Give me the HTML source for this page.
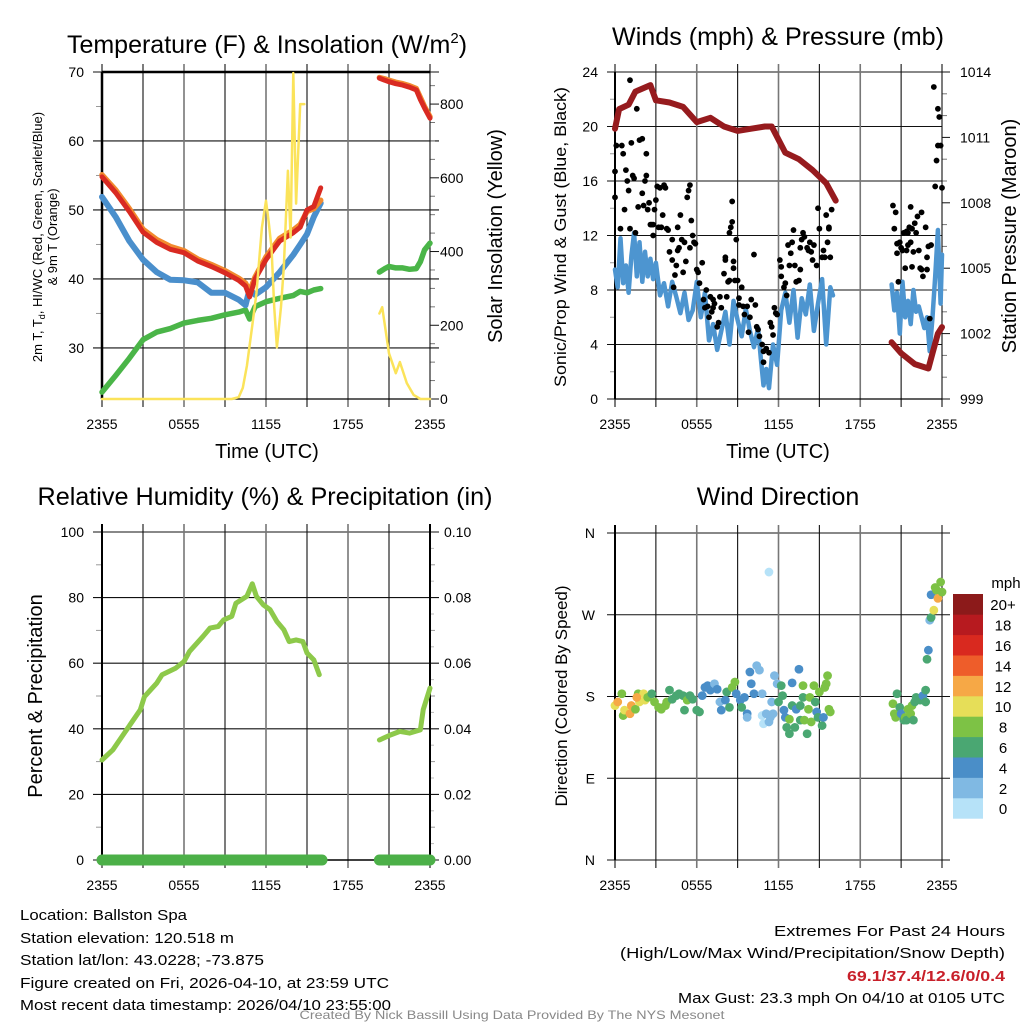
<!DOCTYPE html>
<html><head><meta charset="utf-8"><style>
html,body{margin:0;padding:0;background:#fff;}
svg{display:block;font-family:"Liberation Sans",Arial,sans-serif;}
</style></head><body>
<svg id="chart" width="1024" height="1024" viewBox="0 0 1024 1024" xmlns="http://www.w3.org/2000/svg">
<rect width="1024" height="1024" fill="#fff"/>
<g id="layer"></g>
<g font-size="15" fill="#000">
<text x="20" y="920" textLength="167" lengthAdjust="spacingAndGlyphs">Location: Ballston Spa</text>
<text x="20" y="943" textLength="214" lengthAdjust="spacingAndGlyphs">Station elevation: 120.518 m</text>
<text x="20" y="965" textLength="244" lengthAdjust="spacingAndGlyphs">Station lat/lon: 43.0228; -73.875</text>
<text x="20" y="988" textLength="369" lengthAdjust="spacingAndGlyphs">Figure created on Fri, 2026-04-10, at 23:59 UTC</text>
<text x="20" y="1010" textLength="371" lengthAdjust="spacingAndGlyphs">Most recent data timestamp: 2026/04/10 23:55:00</text>
<text x="1005" y="936" text-anchor="end" textLength="231" lengthAdjust="spacingAndGlyphs">Extremes For Past 24 Hours</text>
<text x="1005" y="958" text-anchor="end" textLength="385" lengthAdjust="spacingAndGlyphs">(High/Low/Max Wind/Precipitation/Snow Depth)</text>
<text x="1005" y="981" text-anchor="end" fill="#c8202a" font-weight="bold" textLength="158" lengthAdjust="spacingAndGlyphs">69.1/37.4/12.6/0/0.4</text>
<text x="1005" y="1003" text-anchor="end" textLength="327" lengthAdjust="spacingAndGlyphs">Max Gust: 23.3 mph On 04/10 at 0105 UTC</text>
<text x="512" y="1019" text-anchor="middle" font-size="12" fill="#888" textLength="425" lengthAdjust="spacingAndGlyphs">Created By Nick Bassill Using Data Provided By The NYS Mesonet</text>
</g>
</svg>
<script>
// ---------- data ----------
const timeLabels = ["2355","0555","1155","1755","2355"];
const tempT = [0,1,2,3,4,5,6,7,8,9,10,10.5,10.8,11.2,12,13,14,14.5,15,15.5,16];
const tempRed = [54.8,52.5,49.8,46.8,45.3,44.3,43.8,42.6,41.8,40.9,39.8,39.0,37.4,40.0,42.8,45.5,46.7,47.5,50.0,50.5,53.2];
const tempOrange = [55.1,52.9,50.2,47.2,45.7,44.7,44.1,42.9,42.1,41.2,40.1,39.4,38.2,40.3,43.2,45.9,47.1,47.9,49.8,50.2,51.4];
const tempBlue = [51.9,49.0,45.5,42.8,41.0,39.9,39.8,39.5,38.0,38.0,37.0,36.2,38.5,37.7,38.8,41.0,43.5,45.0,46.5,49.0,51.0];
const tempGreen = [23.6,26.0,28.5,31.2,32.3,32.8,33.6,34.0,34.3,34.8,35.2,35.5,34.2,36.0,36.7,37.2,37.6,38.2,38.0,38.4,38.6];
const tempT2 = [20.3,20.7,21,21.5,22,22.5,23,23.3,23.6,24];
const tempRed2 = [69.1,68.8,68.6,68.3,68.1,67.8,67.4,66.0,64.8,63.3];
const tempOrange2 = [69.2,69.0,68.8,68.5,68.3,68.0,67.6,66.3,65.0,63.5];
const tempGreen2 = [41.0,41.5,41.8,41.6,41.6,41.4,41.5,42.5,44.2,45.2];
const solarT = [0,9.5,10,10.3,10.6,11,11.3,11.7,12,12.2,12.4,12.6,12.8,13.1,13.3,13.6,13.8,14,14.2,14.5,14.8];
const solarV = [0,0,5,30,90,200,286,465,538,480,411,250,140,250,357,619,438,884,530,800,800];
const solarT2 = [20.3,20.5,21,21.5,21.8,22.3,22.8,23.3,24];
const solarV2 = [232,249,124,70,100,43,11,0,0];
const tempTicks = [30,40,50,60,70];
const solarTicks = [0,200,400,600,800];

const windT = [0,0.2,0.4,0.6,0.8,1.0,1.2,1.4,1.6,1.8,2.0,2.2,2.4,2.6,2.8,3.0,3.3,3.6,3.9,4.2,4.5,4.8,5.1,5.4,5.7,6.0,6.3,6.6,6.9,7.2,7.5,7.8,8.1,8.4,8.7,9.0,9.3,9.6,9.9,10.2,10.5,10.7,10.9,11.1,11.3,11.6,11.9,12.2,12.5,12.8,13.1,13.4,13.7,14.0,14.3,14.6,14.9,15.2,15.5,15.8,16.0];
const windV = [9.5,8.2,11.8,8.5,9.8,7.8,10.5,12.2,9.0,11.5,8.6,10.8,9.0,10.3,8.8,10.0,7.6,8.5,6.8,8.6,7.5,6.3,7.8,5.8,6.5,8.6,6.0,7.8,4.3,5.5,3.6,5.0,6.4,4.0,7.2,5.8,4.6,6.6,5.0,3.8,5.2,3.0,1.0,2.2,0.8,4.0,2.5,6.5,7.8,5.6,8.0,4.5,7.4,6.2,8.4,5.0,7.0,8.8,4.0,8.2,7.6];
const windT2 = [20.3,20.5,20.7,20.9,21.1,21.3,21.5,21.7,21.9,22.1,22.3,22.5,22.7,22.9,23.1,23.3,23.5,23.7,23.9,24.0];
const windV2 = [8.4,6.5,7.8,4.8,8.6,6.0,7.2,5.5,8.0,6.4,6.8,6.0,5.2,6.0,3.5,6.0,9.0,12.4,7.0,10.6];
const gustT = [0.0,0.0,0.1,0.2,0.5,0.6,0.4,0.7,0.8,0.9,1.0,1.1,1.1,1.2,1.3,1.4,1.5,1.6,1.7,1.8,2.0,2.0,2.1,2.2,2.3,2.3,2.4,2.5,2.6,2.7,2.8,2.8,2.9,3.0,3.1,3.2,3.3,3.4,3.5,3.6,3.7,3.8,3.9,4.0,4.2,4.2,4.3,4.4,4.5,4.6,4.6,4.7,4.8,4.9,5.0,5.1,5.2,5.3,5.4,5.5,5.5,5.6,5.7,5.8,5.9,6.0,6.1,6.2,6.4,6.5,6.6,6.7,6.8,6.9,7.0,7.1,7.2,7.2,7.3,7.5,7.6,7.7,7.8,8.0,8.1,8.1,8.2,8.3,8.4,8.4,8.5,8.6,8.6,8.7,8.7,8.8,8.9,9.0,9.1,9.1,9.3,9.4,9.5,9.7,9.8,9.9,10.0,10.2,10.3,10.4,10.5,10.6,10.8,10.9,10.9,11.1,11.3,11.4,11.5,11.6,11.7,11.8,11.9,12.1,12.2,12.2,12.4,12.5,12.6,12.7,12.8,12.9,13.0,13.1,13.2,13.3,13.5,13.6,13.6,13.7,13.8,13.9,14.1,14.2,14.3,14.4,14.5,14.6,14.8,14.9,15.0,15.2,15.3,15.4,15.5,15.6,15.7,15.7,15.8,15.9,
 20.4,20.5,20.6,20.7,20.7,20.8,20.9,21.0,21.1,21.2,21.3,21.4,21.4,21.5,21.5,21.6,21.7,21.7,21.8,21.8,21.9,22.0,22.1,22.2,22.3,22.4,22.5,22.5,22.6,22.8,22.9,22.9,23.0,23.1,23.2,23.4,23.5,23.6,23.7,23.7,23.8,23.9,24.0];
const gustV = [16.7,14.8,18.6,21.1,18.6,18.0,12.5,13.9,16.8,16.0,15.3,12.5,23.4,18.8,16.4,16.2,12.2,21.3,14.1,19.0,19.1,15.1,14.2,16.0,18.0,16.4,13.9,14.4,12.8,12.8,12.0,12.8,13.9,14.6,15.6,12.6,15.5,12.6,13.5,15.7,15.5,12.5,12.4,10.8,11.7,10.2,8.2,9.1,9.8,12.6,10.9,11.1,13.5,11.7,9.3,11.5,10.1,14.8,15.3,11.1,15.7,13.1,12.0,11.5,11.4,9.5,9.3,8.5,10.0,7.3,6.7,8.0,6.8,6.0,7.5,6.4,7.3,6.7,7.0,5.3,5.6,7.5,6.7,9.2,10.4,10.2,7.5,8.6,8.7,12.2,12.6,13.0,14.5,9.6,10.1,8.7,11.7,8.7,7.4,6.9,8.2,6.8,6.2,6.8,4.9,6.0,7.3,10.6,6.9,5.3,5.1,4.6,4.0,3.5,2.7,3.7,3.4,5.6,5.3,4.7,6.7,6.3,6.2,10.2,9.7,9.0,8.2,8.5,7.6,11.3,9.8,10.7,11.5,12.4,9.8,8.6,8.7,9.5,11.1,11.7,12.2,11.9,11.1,10.9,11.5,10.8,10.2,11.3,9.8,14.0,12.5,10.4,10.9,10.4,13.5,11.5,12.6,12.5,10.4,13.9,
 14.2,12.5,13.7,11.4,10.7,8.6,11.5,11.1,10.9,12.2,9.6,12.3,10.9,11.3,12.2,12.6,14.1,11.5,9.7,12.5,10.8,12.9,12.2,13.4,10.9,9.6,13.7,9.5,9.0,12.6,10.4,9.5,11.2,5.9,11.3,22.9,15.6,17.5,21.3,18.6,20.7,18.6,15.5];
const presT = [0,0.3,1,1.5,2.6,3,4,5,6,7,8,9,10,11,11.5,12.5,13.5,14.5,15.5,16.2];
const presV = [1011.4,1012.3,1012.5,1013.1,1013.4,1012.7,1012.6,1012.4,1011.7,1011.9,1011.5,1011.3,1011.4,1011.5,1011.5,1010.3,1010.0,1009.5,1008.9,1008.1];
const presT2 = [20.3,21,22,23,23.3,23.7,24];
const presV2 = [1001.6,1001.1,1000.6,1000.4,1001.1,1002.0,1002.3];
const windTicks = [0,4,8,12,16,20,24];
const presTicks = [999,1002,1005,1008,1011,1014];

const rhT = [0,0.8,1.8,2.8,3.1,4.0,4.4,5.4,6.0,6.4,7.4,7.9,8.5,8.9,9.5,9.8,10.6,11.0,11.3,11.8,12.3,12.8,13.3,13.7,14.2,14.7,15.0,15.5,15.9];
const rhV = [30.5,33.6,39.7,45.8,49.8,53.9,56.5,58.5,60.5,63.6,68.2,70.7,71.2,73.2,74.3,78.3,80.4,84.2,80.4,77.8,76.3,72.7,70.2,66.6,67.1,66.6,63.1,61.0,56.5];
const rhT2 = [20.3,21.1,21.8,22.5,23.3,23.5,24];
const rhV2 = [36.6,38.1,39.2,38.7,39.7,45.8,52.4];
const precipT = [0,16.1];
const precipV = [0,0];
const precipT2 = [20.3,24];
const precipV2 = [0,0];
const rhTicks = [0,20,40,60,80,100];
const precipTicks = ["0.00","0.02","0.04","0.06","0.08","0.10"];

const dirT = [0,0.2,0.5,0.6,0.7,1.1,1.2,1.5,1.7,1.8,2.1,2.2,1.6,2.4,2.7,2.9,3.2,3.4,3.7,3.8,4.0,4.2,4.5,4.7,5.0,5.1,5.3,5.5,5.7,6.0,6.2,6.4,6.6,6.8,7.0,7.3,7.5,7.7,7.8,8.1,8.2,8.4,8.6,8.8,8.9,9.2,9.3,9.5,9.7,9.7,9.9,10.0,10.2,10.4,10.6,10.8,10.8,10.9,11.3,11.1,11.4,11.5,11.6,11.3,11.7,11.9,12.0,12.2,12.3,12.4,12.5,12.6,12.8,12.8,13.0,13.0,13.2,13.3,13.5,13.6,13.6,13.8,13.8,13.9,14.1,14.2,14.3,14.4,14.6,14.7,14.8,14.9,15.0,15.2,15.3,15.4,15.5,15.6,15.7,15.8,
 20.4,20.5,20.6,20.7,20.9,21.0,21.2,21.3,21.4,21.5,21.7,21.8,21.9,22.0,22.1,22.4,22.6,22.8,22.8,22.9,23.0,23.1,23.2,23.4,23.2,23.5,23.6,23.7,23.9,24.0];
const dirV = [170,174,183,159,165,161,170,166,183,174,183,176,179,179,183,174,168,166,170,174,187,177,181,183,181,165,176,181,177,165,163,181,190,192,187,194,188,174,165,176,185,168,190,196,183,176,168,179,161,157,207,194,183,214,209,183,159,150,317,161,157,174,161,152,203,194,174,192,181,165,157,146,139,155,170,195,146,166,210,170,154,192,179,154,139,166,179,152,192,174,163,157,185,148,157,190,194,203,166,163,
 172,161,157,183,168,161,154,157,154,166,161,170,154,174,179,176,181,174,187,221,231,264,267,275,292,300,297,288,306,295];
const dirSpd = [10,12,8,8,10,12,13,8,8,10,10,10,12,8,7,8,8,8,8,8,6,6,6,6,6,6,8,7,6,6,6,4,4,4,4,3,4,3,4,4,7,7,8,8,4,4,6,4,4,3,4,4,4,2,2,2,1,0,0,2,2,2,2,2,2,2,6,6,7,4,4,6,6,8,6,4,6,4,4,6,6,8,6,8,6,8,8,8,8,6,4,6,8,6,4,8,8,8,8,8,
 8,8,8,6,6,4,6,8,6,8,8,8,6,6,6,6,4,6,6,6,4,2,6,10,4,8,8,12,8,8];
const dirLabels = ["N","E","S","W","N"];
const speedLabels = ["0","2","4","6","8","10","12","14","16","18","20+"];
const speedColors = ["#b6e2f8","#80b9e3","#4a8ec8","#4aa772","#7dc245","#e6de58","#f6a846","#ee5d2a","#d9291f","#b71a1f","#8c1a1a"];

// ---------- helpers ----------
const NS = "http://www.w3.org/2000/svg";
const layer = document.getElementById("layer");
function mk(tag, attrs, name, parent) {
  const el = document.createElementNS(NS, tag);
  for (const k in attrs) el.setAttribute(k, attrs[k]);
  
  
  (parent || layer).appendChild(el);
  return el;
}
function txt(x, y, s, attrs, name, parent) {
  const el = mk("text", Object.assign({x: x, y: y}, attrs || {}), name, parent);
  el.textContent = s;
  return el;
}
function tspan(parent, s, attrs, name) {
  const el = document.createElementNS(NS, "tspan");
  for (const k in attrs) el.setAttribute(k, attrs[k]);
  
  
  el.textContent = s;
  parent.appendChild(el);
  return el;
}
function lin(d0, d1, r0, r1) { return v => r0 + (v - d0) / (d1 - d0) * (r1 - r0); }
function pathFrom(xs, ys, fx, fy) {
  return xs.map((t, i) => (i ? "L" : "M") + fx(t).toFixed(1) + "," + fy(ys[i]).toFixed(1)).join("");
}

function timeAxis(g, x0, x1, y0, y1, fx) {
  for (let h = 0; h <= 24; h += 3) {
    const x = fx(h);
    const gray = (h % 6 === 0 && h !== 0 && h !== 24);
    mk("line", {x1: x, y1: y0 - 8, x2: x, y2: y1 + 8, stroke: gray ? "#777" : "#111", "stroke-width": gray ? 1.6 : 1.1}, "x-gridline", g);
  }
  timeLabels.forEach((lab, i) => {
    txt(fx(i * 6), y1 + 30, lab, {"font-size": 14, "text-anchor": "middle"}, "x-tick-label", g);
  });
}

// ---------- panel 1: temperature ----------
(function () {
  const g = mk("g", {}, "temperature-panel");
  const x0 = 102, x1 = 430, y0 = 72, y1 = 399;
  const fx = lin(0, 24, x0, x1), fy = lin(22.6, 70, y1, y0), fs = lin(0, 887, y1, y0);
  tempTicks.forEach(v => {
    mk("line", {x1: x0 - 9, y1: fy(v), x2: x1 + 9, y2: fy(v), stroke: "#111", "stroke-width": 1.1}, "y-gridline", g);
    txt(x0 - 18, fy(v) + 5, String(v), {"font-size": 14, "text-anchor": "end"}, "y-tick-label", g);
  });
  [35,45,55,65].forEach(v => mk("line", {x1: x0 - 6, y1: fy(v), x2: x0, y2: fy(v), stroke: "#999"}, "y-minor-tick", g));
  solarTicks.forEach(v => {
    mk("line", {x1: x1, y1: fs(v), x2: x1 + 9, y2: fs(v), stroke: "#111"}, "right-tick", g);
    txt(x1 + 10, fs(v) + 5, String(v), {"font-size": 14}, "right-tick-label", g);
  });
  for (let v = 50; v < 887; v += 50) if (v % 200) mk("line", {x1: x1, y1: fs(v), x2: x1 + 5, y2: fs(v), stroke: "#777"}, "right-minor-tick", g);
  timeAxis(g, x0, x1, y0, y1, fx);
  mk("line", {x1: x0, y1: y0, x2: x1, y2: y0, stroke: "#000", "stroke-width": 2.5}, "top-border", g);
  mk("line", {x1: x0, y1: y0, x2: x0, y2: y1, stroke: "#000", "stroke-width": 2.5}, "left-axis", g);
  mk("line", {x1: x0, y1: y1, x2: x1, y2: y1, stroke: "#000", "stroke-width": 1.2}, "bottom-axis", g);
  const st = {fill: "none", "stroke-linejoin": "round", "stroke-linecap": "round"};
  mk("path", Object.assign({d: pathFrom(tempT, tempGreen, fx, fy) + pathFrom(tempT2, tempGreen2, fx, fy), stroke: "#4ab548", "stroke-width": 5.5}, st), "dewpoint-line", g);
  mk("path", Object.assign({d: pathFrom(tempT, tempBlue, fx, fy), stroke: "#4a8fcc", "stroke-width": 6}, st), "windchill-line", g);
  mk("path", Object.assign({d: pathFrom(tempT, tempOrange, fx, fy) + pathFrom(tempT2, tempOrange2, fx, fy), stroke: "#f28a2e", "stroke-width": 5.5}, st), "temp-9m-line", g);
  mk("path", Object.assign({d: pathFrom(tempT, tempRed, fx, fy) + pathFrom(tempT2, tempRed2, fx, fy), stroke: "#d92a22", "stroke-width": 5}, st), "temp-2m-line", g);
  mk("path", Object.assign({d: pathFrom(solarT, solarV, fx, fs) + pathFrom(solarT2, solarV2, fx, fs), stroke: "#fbe35a", "stroke-width": 2.5}, st), "solar-line", g);
  const tt = txt(267, 53, "Temperature (F) & Insolation (W/m", {"font-size": 25, "text-anchor": "middle"}, "chart-title", g);
  tspan(tt, "2", {dy: "-10", "font-size": "15"}, "title-superscript");
  tspan(tt, ")", {dy: "10"}, "title-close");
  txt(267, 458, "Time (UTC)", {"font-size": 20, "text-anchor": "middle"}, "x-axis-title", g);
  const yl = mk("g", {transform: "translate(42,237) rotate(-90)"}, "y-axis-title", g);
  const l1 = txt(0, 0, "2m T, T", {"font-size": 13, "text-anchor": "middle"}, "y-axis-title-line1", yl);
  tspan(l1, "d", {dy: "3", "font-size": "9"}, "subscript-d");
  tspan(l1, ", HI/WC (Red, Green, Scarlet/Blue)", {dy: "-3"}, "y-axis-title-rest");
  txt(0, 15, "& 9m T (Orange)", {"font-size": 13, "text-anchor": "middle"}, "y-axis-title-line2", yl);
  const yr = mk("g", {transform: "translate(502,236) rotate(-90)"}, "right-axis-title", g);
  txt(0, 0, "Solar Insolation (Yellow)", {"font-size": 20, "text-anchor": "middle"}, "right-axis-title-text", yr);
})();

// ---------- panel 2: winds ----------
(function () {
  const g = mk("g", {}, "winds-panel");
  const x0 = 615, x1 = 942, y0 = 72, y1 = 399;
  const fx = lin(0, 24, x0, x1), fy = lin(0, 24, y1, y0), fp = lin(999, 1014, y1, y0);
  windTicks.forEach(v => {
    mk("line", {x1: x0 - 8, y1: fy(v), x2: x1, y2: fy(v), stroke: "#111", "stroke-width": 1.1}, "y-gridline", g);
    txt(x0 - 17, fy(v) + 5, String(v), {"font-size": 14, "text-anchor": "end"}, "y-tick-label", g);
  });
  [2,6,10,14,18,22].forEach(v => mk("line", {x1: x0 - 5, y1: fy(v), x2: x0, y2: fy(v), stroke: "#999"}, "y-minor-tick", g));
  presTicks.forEach(v => {
    mk("line", {x1: x1, y1: fp(v), x2: x1 + 8, y2: fp(v), stroke: "#111"}, "right-tick", g);
    txt(x1 + 18, fp(v) + 5, String(v), {"font-size": 14}, "right-tick-label", g);
  });
  for (let v = 1000; v < 1014; v++) if ((v - 999) % 3) mk("line", {x1: x1, y1: fp(v), x2: x1 + 5, y2: fp(v), stroke: "#777"}, "right-minor-tick", g);
  timeAxis(g, x0, x1, y0, y1, fx);
  mk("line", {x1: x0, y1: y0, x2: x0, y2: y1, stroke: "#000", "stroke-width": 2}, "left-axis", g);
  mk("line", {x1: x0, y1: y1, x2: x1, y2: y1, stroke: "#000", "stroke-width": 1.2}, "bottom-axis", g);
  const st = {fill: "none", "stroke-linejoin": "round", "stroke-linecap": "round"};
  mk("path", Object.assign({d: pathFrom(windT, windV, fx, fy) + pathFrom(windT2, windV2, fx, fy), stroke: "#4d95d0", "stroke-width": 4.5}, st), "wind-speed-line", g);
  const gg = mk("g", {fill: "#000"}, "gust-points", g);
  gustT.forEach((t, i) => {
    mk("circle", {cx: fx(t), cy: fy(gustV[i]), r: 2.9}, "gust-point", gg);
  });
  mk("path", Object.assign({d: pathFrom(presT, presV, fx, fp) + pathFrom(presT2, presV2, fx, fp), stroke: "#961b1e", "stroke-width": 6}, st), "pressure-line", g);
  txt(778, 45, "Winds (mph) & Pressure (mb)", {"font-size": 25, "text-anchor": "middle", textLength: 332, lengthAdjust: "spacingAndGlyphs"}, "chart-title", g);
  txt(778, 458, "Time (UTC)", {"font-size": 20, "text-anchor": "middle"}, "x-axis-title", g);
  const yl = mk("g", {transform: "translate(566,237) rotate(-90)"}, "y-axis-title", g);
  txt(0, 0, "Sonic/Prop Wind & Gust (Blue, Black)", {"font-size": 17, "text-anchor": "middle", textLength: 300, lengthAdjust: "spacingAndGlyphs"}, "y-axis-title-text", yl);
  const yr = mk("g", {transform: "translate(1016,236) rotate(-90)"}, "right-axis-title", g);
  txt(0, 0, "Station Pressure (Maroon)", {"font-size": 20, "text-anchor": "middle"}, "right-axis-title-text", yr);
})();

// ---------- panel 3: humidity ----------
(function () {
  const g = mk("g", {}, "humidity-panel");
  const x0 = 102, x1 = 430, y0 = 532, y1 = 860;
  const fx = lin(0, 24, x0, x1), fy = lin(0, 100, y1, y0);
  rhTicks.forEach((v, i) => {
    mk("line", {x1: x0 - 9, y1: fy(v), x2: x1 + 9, y2: fy(v), stroke: "#111", "stroke-width": 1.1}, "y-gridline", g);
    txt(x0 - 18, fy(v) + 5, String(v), {"font-size": 14, "text-anchor": "end"}, "y-tick-label", g);
    txt(x1 + 14, fy(v) + 5, precipTicks[i], {"font-size": 14}, "right-tick-label", g);
  });
  [10,30,50,70,90].forEach(v => {
    mk("line", {x1: x0 - 6, y1: fy(v), x2: x0, y2: fy(v), stroke: "#999"}, "y-minor-tick", g);
    mk("line", {x1: x1, y1: fy(v), x2: x1 + 5, y2: fy(v), stroke: "#999"}, "right-minor-tick", g);
  });
  [5,15,25,35,45,55,65,75,85,95].forEach(v => mk("line", {x1: x1, y1: fy(v), x2: x1 + 4, y2: fy(v), stroke: "#bbb"}, "right-minor-tick", g));
  timeAxis(g, x0, x1, y0, y1, fx);
  mk("line", {x1: x0, y1: y0 - 8, x2: x0, y2: y1, stroke: "#000", "stroke-width": 2}, "left-axis", g);
  mk("line", {x1: x1, y1: y0 - 8, x2: x1, y2: y1, stroke: "#000", "stroke-width": 2}, "right-axis", g);
  mk("line", {x1: x0, y1: y1, x2: x1, y2: y1, stroke: "#000", "stroke-width": 1.5}, "bottom-axis", g);
  const st = {fill: "none", "stroke-linejoin": "round", "stroke-linecap": "round"};
  const fp = lin(0, 0.1, y1, y0);
  mk("path", Object.assign({d: pathFrom(precipT, precipV, fx, fp) + pathFrom(precipT2, precipV2, fx, fp), stroke: "#4cb048", "stroke-width": 11}, st), "precip-line", g);
  mk("path", Object.assign({d: pathFrom(rhT, rhV, fx, fy) + pathFrom(rhT2, rhV2, fx, fy), stroke: "#8dc94a", "stroke-width": 5}, st), "humidity-line", g);
  txt(265, 505, "Relative Humidity (%) & Precipitation (in)", {"font-size": 25, "text-anchor": "middle", textLength: 455, lengthAdjust: "spacingAndGlyphs"}, "chart-title", g);
  const yl = mk("g", {transform: "translate(42,696) rotate(-90)"}, "y-axis-title", g);
  txt(0, 0, "Percent & Precipitation", {"font-size": 20, "text-anchor": "middle"}, "y-axis-title-text", yl);
})();

// ---------- panel 4: wind direction ----------
(function () {
  const g = mk("g", {}, "wind-direction-panel");
  const x0 = 615, x1 = 942, y0 = 533, y1 = 860;
  const fx = lin(0, 24, x0, x1), fy = lin(0, 360, y1, y0);
  dirLabels.forEach((lab, i) => {
    const v = i * 90;
    mk("line", {x1: x0 - 8, y1: fy(v), x2: x1 + 8, y2: fy(v), stroke: "#111", "stroke-width": 1.1}, "y-gridline", g);
    txt(x0 - 20, fy(v) + 5, lab, {"font-size": 14, "text-anchor": "end"}, "y-tick-label", g);
  });
  timeAxis(g, x0, x1, y0, y1, fx);
  mk("line", {x1: x0, y1: y0 - 8, x2: x0, y2: y1, stroke: "#000", "stroke-width": 2}, "left-axis", g);
  const pg = mk("g", {}, "direction-points", g);
  dirT.forEach((t, i) => {
    const ci = Math.min(10, Math.floor(dirSpd[i] / 2));
    mk("circle", {cx: fx(t), cy: fy(dirV[i]), r: 4.4, fill: speedColors[ci]}, "direction-point", pg);
  });
  const lg = mk("g", {}, "speed-legend", g);
  const lx = 953, ly = 594, bh = 20.4;
  speedColors.forEach((c, i) => {
    const y = ly + (10 - i) * bh;
    mk("rect", {x: lx, y: y, width: 30, height: bh + 0.3, fill: c}, "legend-swatch", lg);
    txt(1003, y + bh / 2 + 6, speedLabels[i], {"font-size": 15, "text-anchor": "middle"}, "legend-label", lg);
  });
  txt(1006, 588, "mph", {"font-size": 15, "text-anchor": "middle"}, "legend-title", lg);
  txt(778, 505, "Wind Direction", {"font-size": 25, "text-anchor": "middle"}, "chart-title", g);
  const yl = mk("g", {transform: "translate(567,696) rotate(-90)"}, "y-axis-title", g);
  txt(0, 0, "Direction (Colored By Speed)", {"font-size": 17, "text-anchor": "middle"}, "y-axis-title-text", yl);
})();
</script>
</body></html>
